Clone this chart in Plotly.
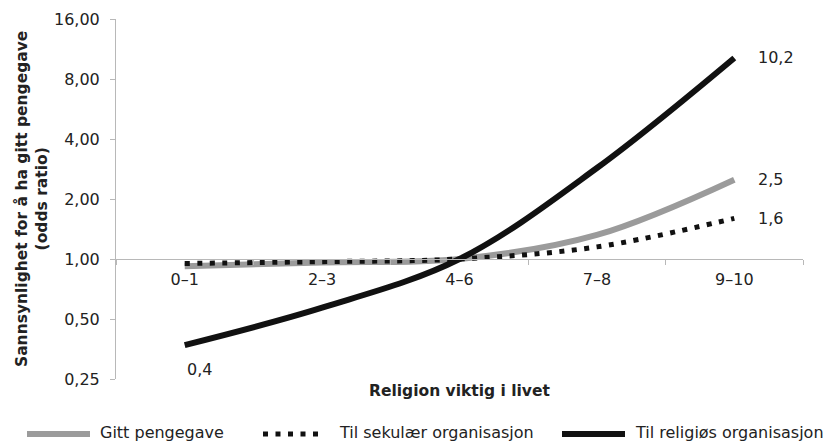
import math
import plotly.graph_objects as go

categories = ["0–1", "2–3", "4–6", "7–8", "9–10"]
gitt = [0.92, 0.96, 1.0, 1.32, 2.5]
sekular = [0.95, 0.97, 1.0, 1.15, 1.6]
religios = [0.37, 0.57, 1.0, 2.86, 10.2]
series_names = ["Gitt pengegave", "Til sekulær organisasjon", "Til religiøs organisasjon"]
y_ticks = [0.25, 0.5, 1, 2, 4, 8, 16]

def fmt(v):
    return f"{v:.1f}".replace(".", ",")

OFF = 8  # page body margin in the browser
W, H = 831, 443
L, T = 116 - OFF, 19 - OFF
R = W - (803 - OFF)
B = H - (379 - OFF)
PW, PH = W - L - R, H - T - B

def px(x):
    return (x - OFF - L) / PW

def py(y):
    return (H - B - (y - OFF)) / PH

FONT = "DejaVu Sans, Verdana, sans-serif"
TXT = "#222222"
GREY = "#9b9b9b"
BLACK = "#111111"
DOT = "5px,7.5px"

fig = go.Figure()
fig.add_trace(go.Scatter(x=categories, y=gitt, name=series_names[0], mode="lines",
                         line=dict(color=GREY, width=6, shape="spline")))
fig.add_trace(go.Scatter(x=categories, y=sekular, name=series_names[1], mode="lines",
                         line=dict(color=BLACK, width=5, shape="spline", dash=DOT)))
fig.add_trace(go.Scatter(x=categories, y=religios, name=series_names[2], mode="lines",
                         line=dict(color=BLACK, width=6, shape="spline")))

annotations = []
for vals in (gitt, sekular, religios):
    annotations.append(dict(x=categories[-1], y=math.log10(vals[-1]), text=fmt(vals[-1]), showarrow=False,
                            xanchor="left", xshift=22, font=dict(size=16, color=TXT)))
annotations.append(dict(x=categories[0], y=math.log10(religios[0]), text=fmt(religios[0]), showarrow=False,
                        xanchor="center", xshift=15, yshift=-24, font=dict(size=16, color=TXT)))
annotations.append(dict(x=0.5, y=py(391), xref="paper", yref="paper", text="<b>Religion viktig i livet</b>",
                        showarrow=False, xanchor="center", yanchor="middle", font=dict(size=15.5, color=TXT)))
annotations.append(dict(x=px(31), y=0.5, xref="paper", yref="paper", textangle=-90,
                        text="<b>Sannsynlighet for å ha gitt pengegave<br>(odds ratio)</b>",
                        showarrow=False, xanchor="center", yanchor="middle", font=dict(size=15.5, color=TXT)))

# manual legend
shapes = []
leg_y = py(434)
legend_items = [
    (27, 90, GREY, 6, "solid", 98, series_names[0]),
    (263, 318, BLACK, 5, DOT, 337, series_names[1]),
    (562, 625, BLACK, 6, "solid", 633, series_names[2]),
]
for x0, x1, col, w, dash, tx, name in legend_items:
    shapes.append(dict(type="line", xref="paper", yref="paper", x0=px(x0), x1=px(x1), y0=leg_y, y1=leg_y,
                       line=dict(color=col, width=w, dash=dash)))
    annotations.append(dict(x=px(tx), y=py(433), xref="paper", yref="paper", text=name, showarrow=False,
                            xanchor="left", yanchor="middle", font=dict(size=16, color=TXT)))

fig.update_layout(
    width=W, height=H,
    margin=dict(l=L, r=R, t=T, b=B),
    paper_bgcolor="white", plot_bgcolor="white",
    separators=", ",
    font=dict(family=FONT, size=16, color=TXT),
    showlegend=False,
    annotations=annotations,
    shapes=shapes,
    xaxis=dict(type="category", anchor="free", position=1/3, range=[-0.5, 4.5], automargin=False,
               showline=True, linecolor="#b8b8b8", linewidth=1,
               ticks="outside", tickson="boundaries", ticklen=5, tickcolor="#b8b8b8",
               ticklabelstandoff=6,
               showgrid=False, zeroline=False, tickfont=dict(size=16, color=TXT)),
    yaxis=dict(type="log", range=[math.log10(0.25), math.log10(16)], tickvals=y_ticks, tickformat=".2f",
               automargin=False, ticklabelstandoff=7,
               showline=True, linecolor="#b8b8b8", linewidth=1, ticks="outside", ticklen=5,
               tickcolor="#b8b8b8", showgrid=False, zeroline=False, tickfont=dict(size=16, color=TXT)),
)
fig.write_html("out.html")
